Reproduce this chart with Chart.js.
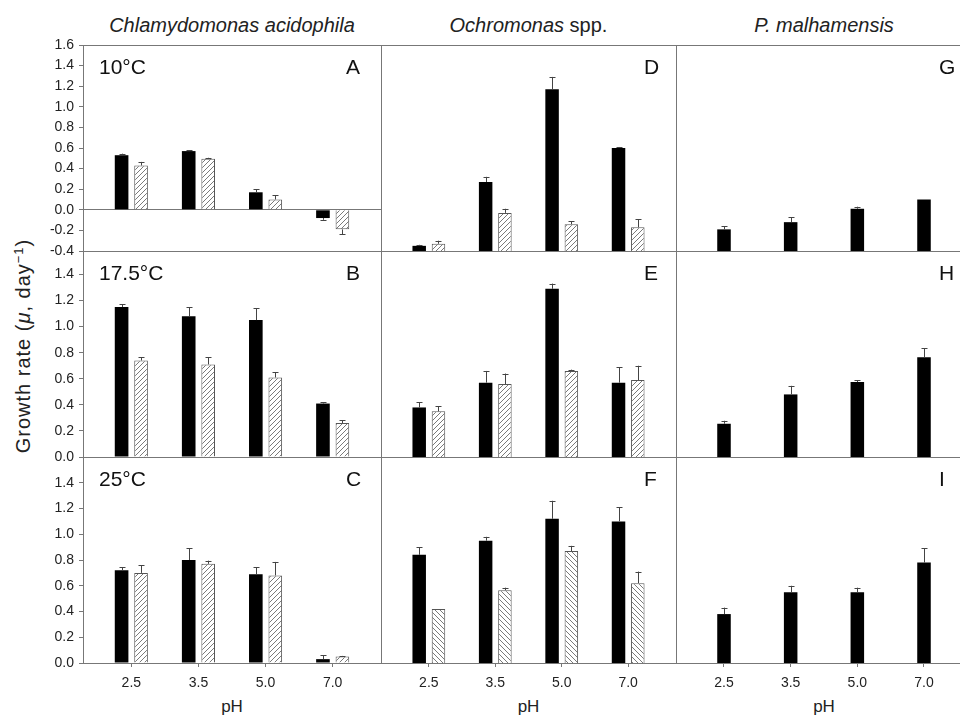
<!DOCTYPE html>
<html>
<head>
<meta charset="utf-8">
<title>Growth rate vs pH</title>
<script src="https://cdn.jsdelivr.net/npm/chart.js@4.4.1/dist/chart.umd.min.js"></script>
<style>
  html, body { margin: 0; padding: 0; background: #fff; }
  body { width: 960px; height: 716px; overflow: hidden; position: relative;
         font-family: "Liberation Sans", Arial, Helvetica, sans-serif; color: #222; }
  canvas { position: absolute; }
  .lbl { position: absolute; text-align: center; white-space: nowrap; }
  .head { top: 13px; font-size: 20px; line-height: 24px; }
  .ph { top: 697px; font-size: 17px; line-height: 20px; }
  #ytitle { position: absolute; left: 23px; top: 346px; font-size: 20px; letter-spacing: 1px; white-space: nowrap;
            transform: translate(-50%, -50%) rotate(-90deg); }
</style>
</head>
<body>
<div class="lbl head" style="left:83px;width:298px"><i>Chlamydomonas acidophila</i></div>
<div class="lbl head" style="left:381px;width:295px"><i>Ochromonas</i> spp.</div>
<div class="lbl head" style="left:676px;width:296px"><i>P. malhamensis</i></div>
<div id="ytitle">Growth rate (<i>μ</i>, day<sup style="font-size:13px">−1</sup>)</div>
<div class="lbl ph" style="left:83px;width:298px">pH</div>
<div class="lbl ph" style="left:381px;width:295px">pH</div>
<div class="lbl ph" style="left:676px;width:296px">pH</div>

<script>
// categories
const phLabels = ['2.5', '3.5', '5.0', '7.0'];
const phIndex = [0, 1, 2, 3];

// y tick labels
const ticksTopRow = [-0.4, -0.2, 0, 0.2, 0.4, 0.6, 0.8, 1.0, 1.2, 1.4, 1.6];
const ticksLowerRows = [0, 0.2, 0.4, 0.6, 0.8, 1.0, 1.2, 1.4];

// Chlamydomonas acidophila
const chlamBlack10 = [0.53, 0.57, 0.17, -0.08];
const chlamBlackErr10 = [0.015, 0.01, 0.03, 0.017];
const chlamHatch10 = [0.43, 0.495, 0.10, -0.19];
const chlamHatchErr10 = [0.035, 0.01, 0.04, 0.045];
const chlamBlack175 = [1.15, 1.08, 1.05, 0.41];
const chlamBlackErr175 = [0.02, 0.07, 0.09, 0.01];
const chlamHatch175 = [0.74, 0.71, 0.61, 0.26];
const chlamHatchErr175 = [0.025, 0.055, 0.04, 0.02];
const chlamBlack25 = [0.72, 0.80, 0.69, 0.03];
const chlamBlackErr25 = [0.025, 0.09, 0.055, 0.03];
const chlamHatch25 = [0.70, 0.77, 0.68, 0.05];
const chlamHatchErr25 = [0.06, 0.025, 0.105, 0.005];

// Ochromonas spp.
const ochroBlack10 = [-0.35, 0.27, 1.17, 0.60];
const ochroBlackErr10 = [0.01, 0.05, 0.12, 0.01];
const ochroHatch10 = [-0.33, -0.03, -0.14, -0.17];
const ochroHatchErr10 = [0.03, 0.04, 0.03, 0.08];
const ochroBlack175 = [0.38, 0.57, 1.29, 0.57];
const ochroBlackErr175 = [0.04, 0.09, 0.04, 0.12];
const ochroHatch175 = [0.35, 0.56, 0.66, 0.59];
const ochroHatchErr175 = [0.04, 0.08, 0.01, 0.11];
const ochroBlack25 = [0.84, 0.95, 1.12, 1.10];
const ochroBlackErr25 = [0.06, 0.03, 0.14, 0.11];
const ochroHatch25 = [0.42, 0.565, 0.87, 0.62];
const ochroHatchErr25 = [0, 0.02, 0.04, 0.09];

// P. malhamensis
const malhaBlack10 = [-0.19, -0.12, 0.01, 0.10];
const malhaBlackErr10 = [0.03, 0.05, 0.02, 0];
const malhaBlack175 = [0.255, 0.48, 0.575, 0.765];
const malhaBlackErr175 = [0.023, 0.066, 0.015, 0.07];
const malhaBlack25 = [0.38, 0.55, 0.55, 0.78];
const malhaBlackErr25 = [0.05, 0.05, 0.035, 0.11];

// layout
const colLeft = [83, 381, 676];
const colWidth = [298, 295, 296];
const rowTop = [45, 251, 457];
const rowHeight = 206;
const rowMin = [-0.4, 0, 0];
const rowMax = [1.6, 1.58, 1.6];
const PAD = 10;
const X_AXIS_H = 36;
const FONT = '"Liberation Sans", Arial, Helvetica, sans-serif';

Chart.defaults.font.family = FONT;
Chart.defaults.color = '#222';

const panels = [
  { letter: 'A', row: 0, col: 0, temp: '10°C', black: chlamBlack10, blackErr: chlamBlackErr10, hatch: chlamHatch10, hatchErr: chlamHatchErr10, dir: 1 },
  { letter: 'B', row: 1, col: 0, temp: '17.5°C', black: chlamBlack175, blackErr: chlamBlackErr175, hatch: chlamHatch175, hatchErr: chlamHatchErr175, dir: 1 },
  { letter: 'C', row: 2, col: 0, temp: '25°C', black: chlamBlack25, blackErr: chlamBlackErr25, hatch: chlamHatch25, hatchErr: chlamHatchErr25, dir: 1 },
  { letter: 'D', row: 0, col: 1, black: ochroBlack10, blackErr: ochroBlackErr10, hatch: ochroHatch10, hatchErr: ochroHatchErr10, dir: 1, base: -0.4 },
  { letter: 'E', row: 1, col: 1, black: ochroBlack175, blackErr: ochroBlackErr175, hatch: ochroHatch175, hatchErr: ochroHatchErr175, dir: 1 },
  { letter: 'F', row: 2, col: 1, black: ochroBlack25, blackErr: ochroBlackErr25, hatch: ochroHatch25, hatchErr: ochroHatchErr25, dir: -1 },
  { letter: 'G', row: 0, col: 2, black: malhaBlack10, blackErr: malhaBlackErr10, base: -0.4 },
  { letter: 'H', row: 1, col: 2, black: malhaBlack175, blackErr: malhaBlackErr175 },
  { letter: 'I', row: 2, col: 2, black: malhaBlack25, blackErr: malhaBlackErr25 }
];

// diagonal hatch fill
function hatchPattern(ctx, dir) {
  const t = document.createElement('canvas');
  t.width = 5; t.height = 5;
  const g = t.getContext('2d');
  g.fillStyle = '#fff';
  g.fillRect(0, 0, 5, 5);
  g.strokeStyle = '#7a7a7a';
  g.lineWidth = 1;
  g.beginPath();
  if (dir > 0) {
    g.moveTo(-1, 6); g.lineTo(6, -1);
    g.moveTo(-1, 1); g.lineTo(1, -1);
    g.moveTo(4, 6); g.lineTo(6, 4);
  } else {
    g.moveTo(-1, -1); g.lineTo(6, 6);
    g.moveTo(-1, 4); g.lineTo(1, 6);
    g.moveTo(4, -1); g.lineTo(6, 1);
  }
  g.stroke();
  return ctx.createPattern(t, 'repeat');
}

// one-sided error bars, pointing away from the bar base
const errorBars = {
  id: 'errorBars',
  afterDatasetsDraw(chart) {
    const ctx = chart.ctx;
    const yScale = chart.scales.y;
    ctx.save();
    ctx.strokeStyle = '#444';
    ctx.lineWidth = 1;
    chart.data.datasets.forEach((ds, di) => {
      if (!ds.errors) return;
      chart.getDatasetMeta(di).data.forEach((bar, i) => {
        const err = ds.errors[i];
        if (!err) return;
        const v = ds.data[i].y;
        const up = bar.y <= bar.base;
        const yEnd = yScale.getPixelForValue(up ? v + err : v - err);
        const x = Math.round(bar.x) + 0.5;
        ctx.beginPath();
        ctx.moveTo(x, bar.y);
        ctx.lineTo(x, yEnd);
        ctx.moveTo(x - 3, Math.round(yEnd) + 0.5);
        ctx.lineTo(x + 3, Math.round(yEnd) + 0.5);
        ctx.stroke();
      });
    });
    ctx.restore();
  }
};

const frame = {
  id: 'frame',
  afterDatasetsDraw(chart) {
    const { ctx, chartArea } = chart;
    ctx.save();
    ctx.strokeStyle = '#777';
    ctx.lineWidth = 1;
    ctx.strokeRect(Math.round(chartArea.left) + 0.5, Math.round(chartArea.top) + 0.5,
      Math.round(chartArea.right - chartArea.left), Math.round(chartArea.bottom - chartArea.top));
    ctx.restore();
  }
};

const panelText = {
  id: 'panelText',
  afterDraw(chart, args, opts) {
    const { ctx, chartArea } = chart;
    ctx.save();
    ctx.font = '21px ' + FONT;
    ctx.fillStyle = '#111';
    ctx.textBaseline = 'middle';
    ctx.textAlign = 'left';
    const y = chartArea.top + 23;
    if (opts.temp) ctx.fillText(opts.temp, chartArea.left + 16, y);
    ctx.fillText(opts.letter, chartArea.left + 263, y);
    ctx.restore();
  }
};

panels.forEach(p => {
  const firstCol = p.col === 0;
  const bottomRow = p.row === 2;
  const canvas = document.createElement('canvas');
  const left = firstCol ? 0 : colLeft[p.col] - 4;
  const width = firstCol ? colLeft[0] + colWidth[0] + 4 : colWidth[p.col] + 8;
  const top = rowTop[p.row] - PAD;
  const height = rowHeight + PAD + (bottomRow ? X_AXIS_H : PAD);
  canvas.width = width;
  canvas.height = height;
  canvas.style.left = left + 'px';
  canvas.style.top = top + 'px';
  document.body.appendChild(canvas);
  const ctx = canvas.getContext('2d');

  const single = !p.hatch;
  const datasets = [{
    label: 'black',
    data: phIndex.map((x, i) => ({ x: x, y: p.black[i] })),
    errors: p.blackErr,
    backgroundColor: '#000',
    borderWidth: 0,
    categoryPercentage: single ? 0.29 : 0.58,
    barPercentage: 0.7
  }];
  if (p.hatch) {
    datasets.push({
      label: 'hatched',
      data: phIndex.map((x, i) => ({ x: x, y: p.hatch[i] })),
      errors: p.hatchErr,
      backgroundColor: hatchPattern(ctx, p.dir),
      borderColor: '#555',
      borderWidth: 1,
      categoryPercentage: 0.58,
      barPercentage: 0.7
    });
  }
  if (p.base !== undefined) datasets.forEach(d => { d.base = p.base; });

  const yTicks = p.row === 0 ? ticksTopRow : ticksLowerRows;

  new Chart(ctx, {
    type: 'bar',
    data: { datasets: datasets },
    options: {
      responsive: false,
      animation: false,
      events: [],
      layout: { padding: { top: PAD, bottom: bottomRow ? 0 : PAD, left: firstCol ? 0 : 4, right: 4 } },
      plugins: {
        legend: { display: false },
        tooltip: { enabled: false },
        panelText: { temp: p.temp, letter: p.letter }
      },
      scales: {
        x: {
          type: 'linear',
          offset: false,
          min: -0.72,
          max: 3.72,
          display: bottomRow,
          afterBuildTicks: s => { s.ticks = phIndex.map(v => ({ value: v })); },
          afterFit: s => {
            if (bottomRow) s.height = X_AXIS_H;
            s.paddingLeft = 0; s.paddingRight = 0;
          },
          border: { display: false },
          grid: { display: true, offset: false, drawOnChartArea: false, drawTicks: true, tickLength: 4, tickColor: '#777' },
          ticks: { callback: v => phLabels[v], font: { size: 14 }, color: '#222', padding: 8, maxRotation: 0, autoSkip: false }
        },
        y: {
          min: rowMin[p.row],
          max: rowMax[p.row],
          display: firstCol,
          afterBuildTicks: s => { s.ticks = yTicks.map(v => ({ value: v })); },
          afterFit: s => {
            if (firstCol) s.width = colLeft[0];
            s.paddingTop = 0; s.paddingBottom = 0;
          },
          border: { display: false },
          grid: {
            color: c => (p.row === 0 && c.tick && c.tick.value === 0) ? '#777' : 'rgba(0,0,0,0)',
            tickColor: '#777',
            tickLength: 4,
            drawTicks: true
          },
          ticks: { callback: v => v.toFixed(1), font: { size: 14 }, color: '#222', padding: 5, autoSkip: false }
        }
      }
    },
    plugins: [errorBars, frame, panelText]
  });
});
</script>
</body>
</html>
